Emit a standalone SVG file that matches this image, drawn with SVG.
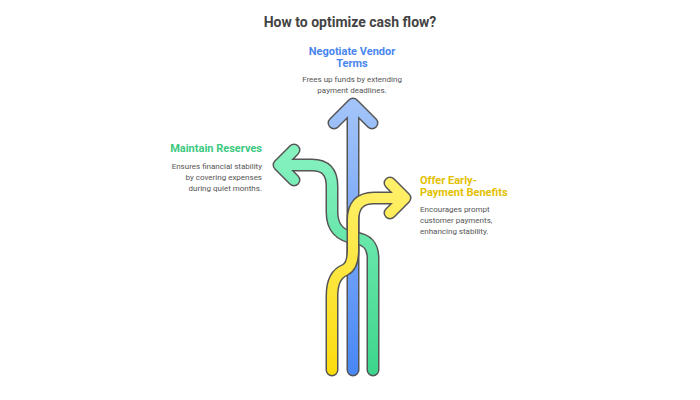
<svg xmlns="http://www.w3.org/2000/svg" width="700" height="400" viewBox="0 0 700 400">
<defs>
<linearGradient id="gb" x1="0" y1="0" x2="0" y2="1"><stop offset="0" stop-color="#a3c4fa"/><stop offset="1" stop-color="#4a88f5"/></linearGradient>
<linearGradient id="gg" x1="0" y1="0" x2="0" y2="1"><stop offset="0" stop-color="#86f2c0"/><stop offset="1" stop-color="#3ed68c"/></linearGradient>
<linearGradient id="gy" x1="0" y1="0" x2="0" y2="1"><stop offset="0" stop-color="#fff06a"/><stop offset="1" stop-color="#fbdc10"/></linearGradient>
</defs>
<style>
.o{fill:none;stroke:#555;stroke-width:13;stroke-linecap:round;stroke-linejoin:round}
.f{fill:none;stroke-width:10;stroke-linecap:round;stroke-linejoin:round}
text{font-family:Roboto,"Liberation Sans",sans-serif}
.t{font-size:11px;font-weight:bold}
.d{font-size:8px;fill:#555}
</style>
<rect width="700" height="400" fill="#fff"/>
<text x="350" y="27" text-anchor="middle" font-size="14" font-weight="bold" fill="#444" style="font-family:Roboto,'Liberation Sans',sans-serif">How to optimize cash flow?</text>
<g id="connectors">
<g id="blue-arrow">
<path class="o" d="M353 370V105M334 123L353 104L372 123"/>
<path class="f" stroke="url(#gb)" d="M353 370V105M334 123L353 104L372 123"/>
</g>
<g id="green-arrow">
<path class="o" d="M373 370V258Q373 240 355 238Q332 235 332 212V186Q332 165 312 165H280M294 150L279 165L294 180"/>
<path class="f" stroke="url(#gg)" d="M373 370V258Q373 240 355 238Q332 235 332 212V186Q332 165 312 165H280M294 150L279 165L294 180"/>
</g>
<g id="yellow-arrow">
<path class="o" d="M332 370V296Q332 275 345 270Q353 266 353 250V220Q353 198 374 198H405M390 183L405 198L390 213"/>
<path class="f" stroke="url(#gy)" d="M332 370V296Q332 275 345 270Q353 266 353 250V220Q353 198 374 198H405M390 183L405 198L390 213"/>
</g>
</g>
<g id="node-negotiate">
<text class="t" x="352" y="55" text-anchor="middle" fill="#4a86f0">Negotiate Vendor</text>
<text class="t" x="352" y="67" text-anchor="middle" fill="#4a86f0">Terms</text>
<text class="d" x="352" y="82" text-anchor="middle">Frees up funds by extending</text>
<text class="d" x="352" y="93" text-anchor="middle">payment deadlines.</text>
</g>
<g id="node-maintain">
<text class="t" x="262" y="152" text-anchor="end" fill="#3cc97f">Maintain Reserves</text>
<text class="d" x="262" y="169" text-anchor="end">Ensures financial stability</text>
<text class="d" x="262" y="180" text-anchor="end">by covering expenses</text>
<text class="d" x="262" y="191" text-anchor="end">during quiet months.</text>
</g>
<g id="node-offer">
<text class="t" x="420" y="184" fill="#e3c000">Offer Early-</text>
<text class="t" x="420" y="196" fill="#e3c000">Payment Benefits</text>
<text class="d" x="420" y="212">Encourages prompt</text>
<text class="d" x="420" y="223">customer payments,</text>
<text class="d" x="420" y="234">enhancing stability.</text>
</g>
</svg>
